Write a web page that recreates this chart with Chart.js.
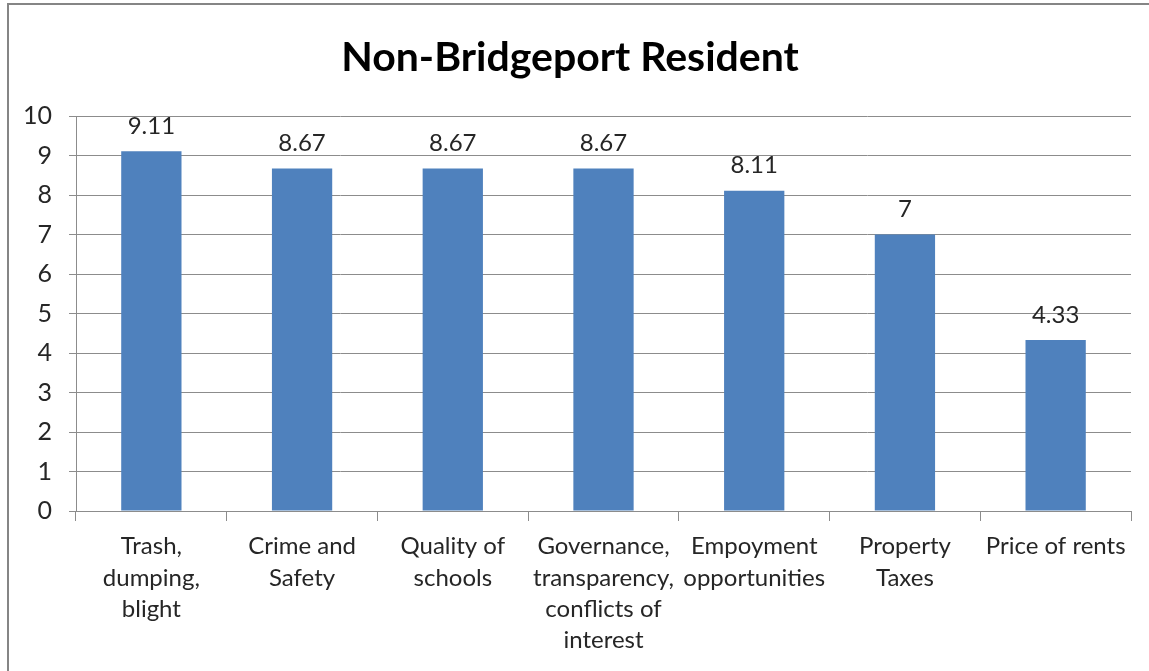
<!DOCTYPE html>
<html>
<head>
<meta charset="utf-8">
<script src="https://cdn.jsdelivr.net/npm/chart.js@4/dist/chart.umd.min.js"></script>
<style>
  html, body { margin: 0; padding: 0; background: #fff; }
  #wrap { position: relative; width: 1149px; height: 671px; }
  canvas { display: block; }
</style>
</head>
<body>
<div id="wrap"><canvas id="c" width="1149" height="671"></canvas></div>
<script>
// Issue ratings for non-Bridgeport residents
const titleText = 'Non-Bridgeport Resident';
const categories = [
  ['Trash,', 'dumping,', 'blight'],
  ['Crime and', 'Safety'],
  ['Quality of', 'schools'],
  ['Governance,', 'transparency,', 'conflicts of', 'interest'],
  ['Empoyment', 'opportunities'],
  ['Property', 'Taxes'],
  ['Price of rents']
];
const ratings = [9.11, 8.67, 8.67, 8.67, 8.11, 7, 4.33];
const ratingLabels = ['9.11', '8.67', '8.67', '8.67', '8.11', '7', '4.33'];
const yTicks = [0, 1, 2, 3, 4, 5, 6, 7, 8, 9, 10];

const FONT = 'Lato, "Open Sans", sans-serif';
const TEXT = '#262626';
const GRID = '#8c8c8c';

// Frame, title and value labels
const decor = {
  id: 'decor',
  beforeDraw(chart) {
    const ctx = chart.ctx;
    ctx.save();
    ctx.fillStyle = '#fff';
    ctx.fillRect(0, 0, chart.width, chart.height);
    ctx.strokeStyle = '#858585';
    ctx.lineWidth = 2;
    ctx.beginPath();
    ctx.moveTo(8, chart.height + 5);
    ctx.lineTo(8, 4);
    ctx.lineTo(chart.width + 5, 4);
    ctx.stroke();
    ctx.restore();
  },
  afterDraw(chart) {
    const ctx = chart.ctx;
    ctx.save();
    ctx.fillStyle = '#000';
    ctx.font = 'bold 41px ' + FONT;
    ctx.textAlign = 'center';
    ctx.textBaseline = 'alphabetic';
    ctx.fillText(titleText, 570, 71);

    const meta = chart.getDatasetMeta(0);
    ctx.fillStyle = TEXT;
    ctx.font = '24px ' + FONT;
    ctx.textBaseline = 'middle';
    meta.data.forEach((bar, i) => {
      ctx.fillText(ratingLabels[i], bar.x, bar.y - 25);
    });
    ctx.restore();
  }
};

new Chart(document.getElementById('c'), {
  type: 'bar',
  data: {
    labels: categories,
    datasets: [{
      data: ratings,
      backgroundColor: '#4f81bd',
      borderWidth: 0,
      categoryPercentage: 1,
      barPercentage: 0.4
    }]
  },
  options: {
    responsive: false,
    animation: false,
    events: [],
    layout: { padding: { left: 0, right: 18, top: 116, bottom: 0 } },
    plugins: { legend: { display: false }, tooltip: { enabled: false }, title: { display: false } },
    scales: {
      x: {
        offset: true,
        grid: { display: true, offset: true, drawOnChartArea: false, color: GRID, tickLength: 10, lineWidth: 1 },
        border: { display: true, color: GRID, width: 1 },
        ticks: {
          color: TEXT,
          font: { family: FONT, size: 24, lineHeight: 1.3 },
          maxRotation: 0, minRotation: 0, autoSkip: false, padding: 10
        },
        afterFit(scale) { scale.height = 160; }
      },
      y: {
        min: 0, max: 10,
        afterBuildTicks(scale) { scale.ticks = yTicks.map(v => ({ value: v })); },
        grid: { color: GRID, tickLength: 7, lineWidth: 1 },
        border: { display: true, color: GRID, width: 1 },
        ticks: {
          color: TEXT,
          font: { family: FONT, size: 25 },
          padding: 17
        },
        afterFit(scale) { scale.width = 76; }
      }
    }
  },
  plugins: [decor]
});
</script>
</body>
</html>
